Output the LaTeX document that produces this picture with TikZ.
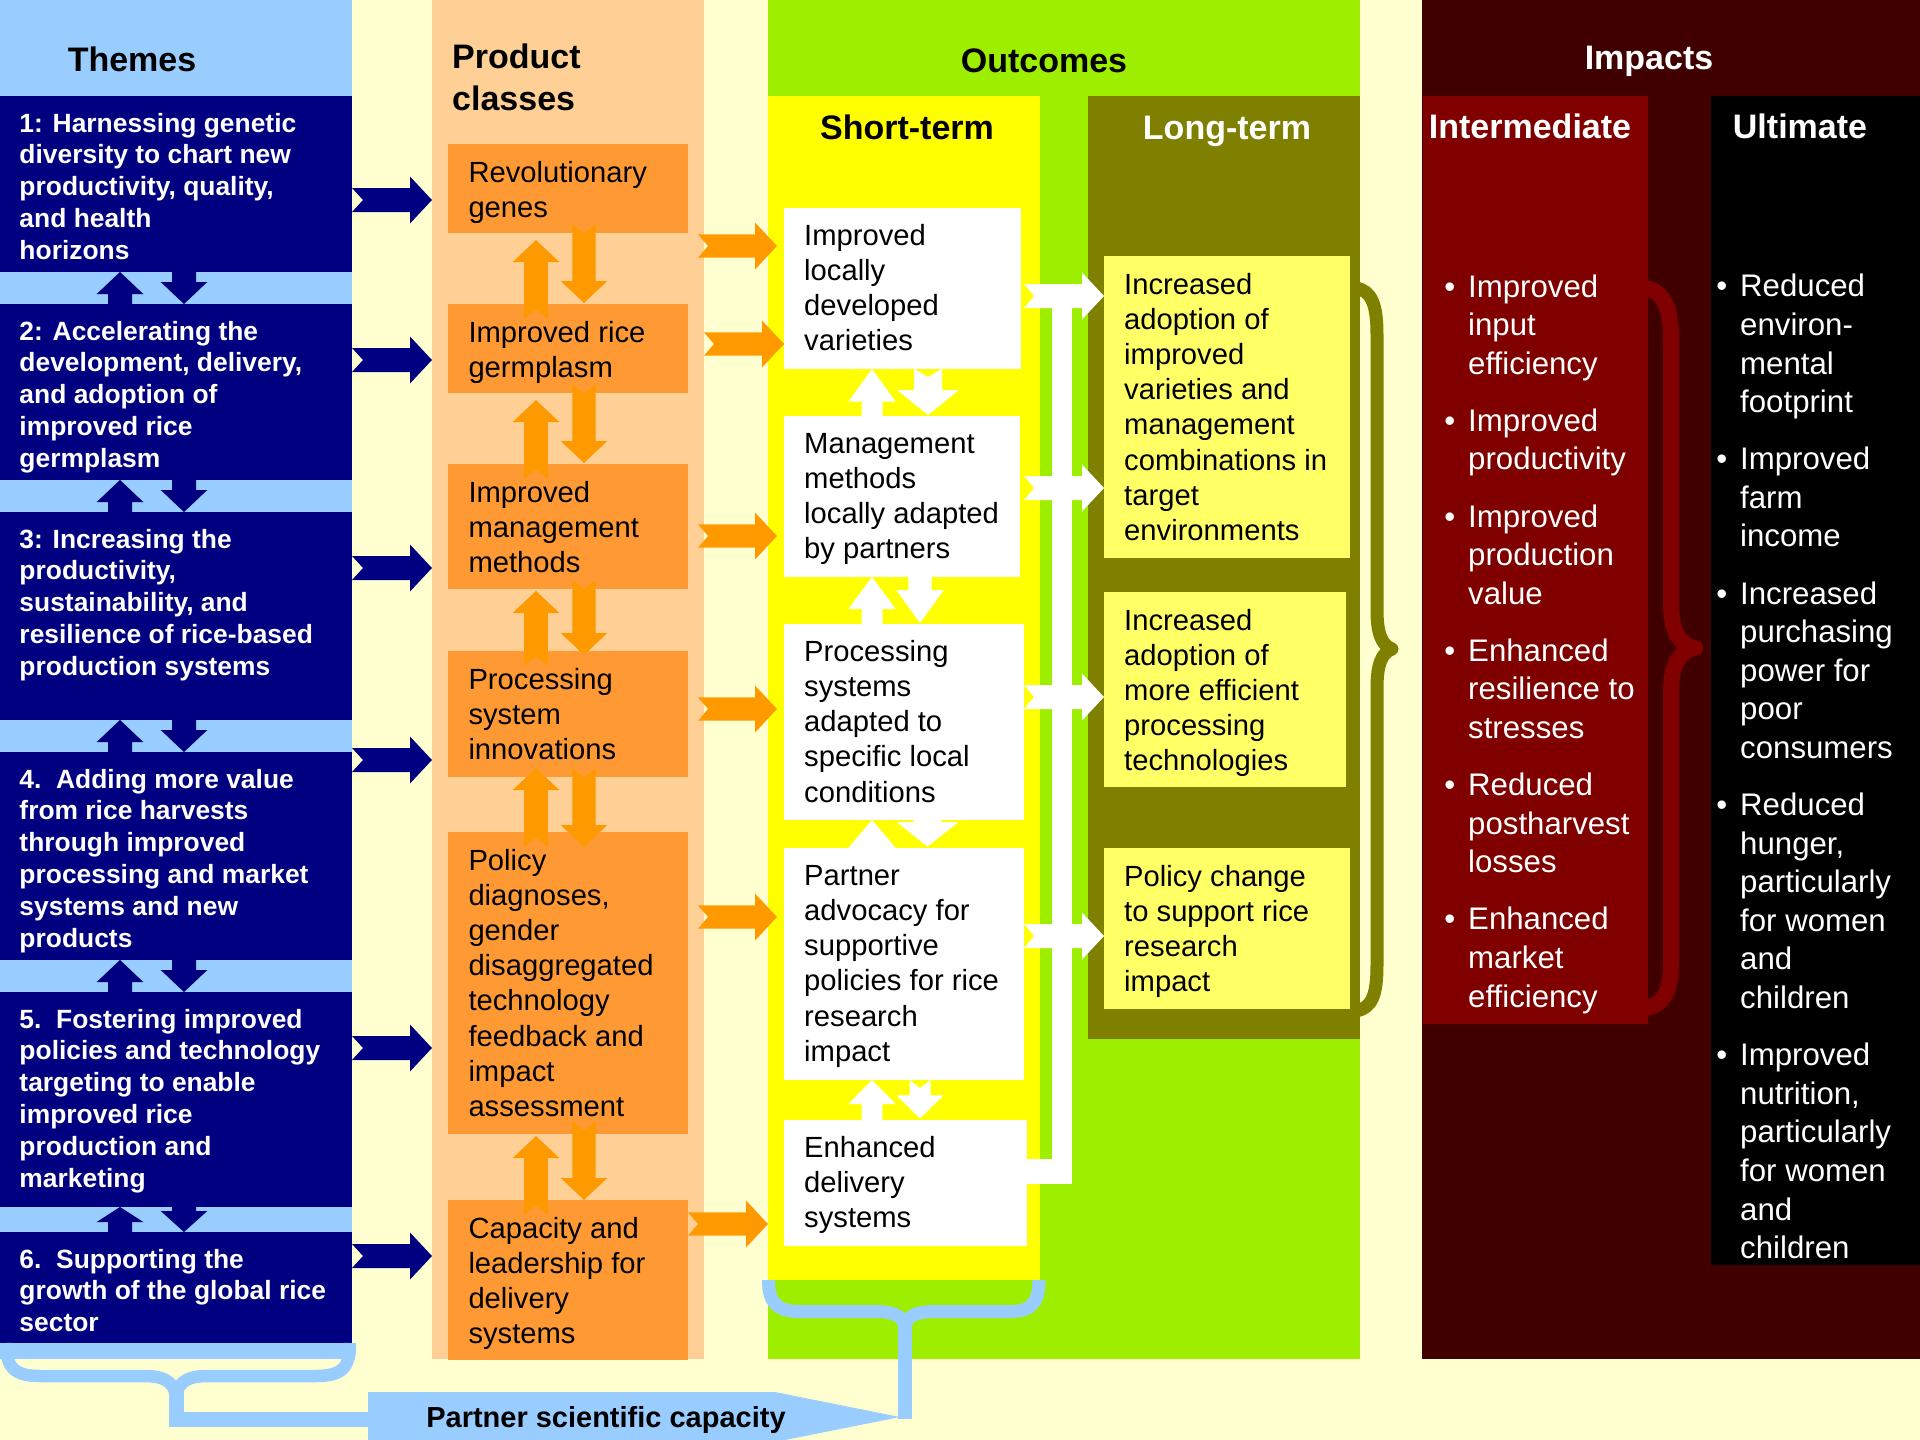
\documentclass[tikz,border=0pt]{standalone}
\usepackage{fontspec}
\setmainfont{Liberation Sans}
\definecolor{bgc}{HTML}{FFFFD0}
\definecolor{ltblue}{HTML}{99CCFF}
\definecolor{navy}{HTML}{000080}
\definecolor{peach}{HTML}{FFD095}
\definecolor{obox}{HTML}{FF9933}
\definecolor{oarr}{HTML}{FF9900}
\definecolor{grn}{HTML}{9EEE00}
\definecolor{yel}{HTML}{FFFF00}
\definecolor{olv}{HTML}{808000}
\definecolor{pyel}{HTML}{FFFF66}
\definecolor{dmar}{HTML}{400000}
\definecolor{mar}{HTML}{800000}
\newcommand\fsz[2]{\fontsize{#1pt}{#2pt}\selectfont}
\newcommand\mytxt[2]{\parbox[t]{#1pt}{\raggedright #2}}
\newcommand\bul{\leavevmode\llap{\textbullet\hspace{13pt}}}
% right block arrow: colour, tail x, tip x, centre y, shaft half, head half, head length, notch
\newcommand\blkR[8]{\fill[#1] ({#2},{#4-#5}) -- ({#3-#7},{#4-#5}) -- ({#3-#7},{#4-#6}) -- ({#3},{#4}) -- ({#3-#7},{#4+#6}) -- ({#3-#7},{#4+#5}) -- ({#2},{#4+#5}) -- ({#2+#8},{#4}) -- cycle;}
% up block arrow: colour, centre x, tail y, tip y, shaft half, head half, head length, notch
\newcommand\blkU[8]{\fill[#1] ({#2-#5},{#3}) -- ({#2-#5},{#4+#7}) -- ({#2-#6},{#4+#7}) -- ({#2},{#4}) -- ({#2+#6},{#4+#7}) -- ({#2+#5},{#4+#7}) -- ({#2+#5},{#3}) -- ({#2},{#3-#8}) -- cycle;}
% down block arrow
\newcommand\blkD[8]{\fill[#1] ({#2-#5},{#3}) -- ({#2-#5},{#4-#7}) -- ({#2-#6},{#4-#7}) -- ({#2},{#4}) -- ({#2+#6},{#4-#7}) -- ({#2+#5},{#4-#7}) -- ({#2+#5},{#3}) -- ({#2},{#3+#8}) -- cycle;}
\begin{document}
\begin{tikzpicture}[x=1pt,y=-1pt,
  bx/.style={inner sep=0pt,outer sep=0pt,anchor=north west,draw=none},
  thtxt/.style={anchor=base west,inner sep=0pt,text=white,font=\fsz{26.4}{31.9}\bfseries},
  ptxt/.style={anchor=base west,inner sep=0pt,text=black,font=\fsz{29.2}{35.2}},
  itxt/.style={anchor=base west,inner sep=0pt,text=white,font=\fsz{31.2}{38.6}},
  hdr/.style={inner sep=0pt,anchor=base,font=\fsz{34}{41.7}\bfseries},
  brace/.style={line cap=butt,line join=round}]
\useasboundingbox (0,0) rectangle (1920,1440);
\clip (0,0) rectangle (1920,1440);
\fill[bgc] (0,0) rectangle (1920,1440);

% column backgrounds
\node[bx,fill=ltblue,minimum width=352pt,minimum height=1359pt] (colTh) at (0,0) {};
\node[bx,fill=peach,minimum width=272pt,minimum height=1359pt] (colPr) at (432,0) {};
\node[bx,fill=grn,minimum width=592pt,minimum height=1359pt] (colOut) at (768,0) {};
\node[bx,fill=yel,minimum width=272pt,minimum height=1184pt] (colST) at (768,96) {};
\node[bx,fill=olv,minimum width=272pt,minimum height=943pt] (colLT) at (1088,96) {};
\node[bx,fill=dmar,minimum width=498pt,minimum height=1359pt] (colIm) at (1422,0) {};
\node[bx,fill=mar,minimum width=225pt,minimum height=928pt] (colInt) at (1423,96) {};
\node[bx,fill=black,minimum width=209pt,minimum height=1169pt] (colUlt) at (1711,96) {};

% headers
\node[hdr] (hTh) at (132,71.7) {Themes};
\node[hdr,anchor=base west] (hPr) at (452,68.3) {\mytxt{240}{Product\\classes}};
\node[hdr] (hOut) at (1044,72) {Outcomes};
\node[hdr] (hST) at (907,139) {Short-term};
\node[hdr,text=white] (hLT) at (1227,139) {Long-term};
\node[hdr,text=white] (hIm) at (1649,69) {Impacts};
\node[hdr,text=white] (hInt) at (1530,138.4) {Intermediate};
\node[hdr,text=white] (hUlt) at (1800,138.4) {Ultimate};

% theme boxes
\node[bx,fill=navy,minimum width=352pt,minimum height=176pt] (t1) at (0,96) {};
\node[bx,fill=navy,minimum width=352pt,minimum height=176pt] (t2) at (0,304) {};
\node[bx,fill=navy,minimum width=352pt,minimum height=208pt] (t3) at (0,512) {};
\node[bx,fill=navy,minimum width=352pt,minimum height=208pt] (t4) at (0,752) {};
\node[bx,fill=navy,minimum width=352pt,minimum height=215pt] (t5) at (0,992) {};
\node[bx,fill=navy,minimum width=352pt,minimum height=111pt] (t6) at (0,1232) {};
\path (t1.north west) ++(19.3,36) node[thtxt] {\mytxt{330}{1: Harnessing genetic\\diversity to chart new\\productivity, quality,\\and health\\horizons}};
\path (t2.north west) ++(19.3,36) node[thtxt] {\mytxt{330}{2: Accelerating the\\development, delivery,\\and adoption of\\improved rice\\germplasm}};
\path (t3.north west) ++(19.3,36) node[thtxt] {\mytxt{330}{3: Increasing the\\productivity,\\sustainability, and\\resilience of rice-based\\production systems}};
\path (t4.north west) ++(19.3,36) node[thtxt] {\mytxt{330}{4.\ \ Adding more value\\from rice harvests\\through improved\\processing and market\\systems and new\\products}};
\path (t5.north west) ++(19.3,36) node[thtxt] {\mytxt{330}{5.\ \ Fostering improved\\policies and technology\\targeting to enable\\improved rice\\production and\\marketing}};
\path (t6.north west) ++(19.3,36) node[thtxt] {\mytxt{330}{6.\ \ Supporting the\\growth of the global rice\\sector}};

% navy arrows between themes
\blkU{navy}{120}{304}{272}{12}{23.3}{22}{0}
\blkD{navy}{184}{272}{304}{12}{23.3}{22}{0}
\blkU{navy}{120}{512}{480}{12}{23.3}{22}{0}
\blkD{navy}{184}{480}{512}{12}{23.3}{22}{0}
\blkU{navy}{120}{752}{720}{12}{23.3}{22}{0}
\blkD{navy}{184}{720}{752}{12}{23.3}{22}{0}
\blkU{navy}{120}{992}{960}{12}{23.3}{22}{0}
\blkD{navy}{184}{960}{992}{12}{23.3}{22}{0}
\blkU{navy}{120}{1232}{1207}{12}{23.3}{15}{0}
\blkD{navy}{184}{1207}{1232}{12}{23.3}{21}{0}

% navy arrows themes -> product classes
\blkR{navy}{352}{432}{200}{12}{23.5}{22}{11}
\blkR{navy}{352}{432}{360}{12}{23.5}{22}{11}
\blkR{navy}{352}{432}{568}{12}{23.5}{22}{11}
\blkR{navy}{352}{432}{760}{12}{23.5}{22}{11}
\blkR{navy}{352}{432}{1048}{12}{23.5}{22}{11}
\blkR{navy}{352}{432}{1256}{12}{23.5}{22}{11}

% product class boxes
\node[bx,fill=obox,minimum width=240pt,minimum height=89pt] (p1) at (448,144) {};
\node[bx,fill=obox,minimum width=240pt,minimum height=89pt] (p2) at (448,304) {};
\node[bx,fill=obox,minimum width=240pt,minimum height=125pt] (p3) at (448,464) {};
\node[bx,fill=obox,minimum width=240pt,minimum height=126pt] (p4) at (448,651) {};
\node[bx,fill=obox,minimum width=240pt,minimum height=302pt] (p5) at (448,832) {};
\node[bx,fill=obox,minimum width=240pt,minimum height=160pt] (p6) at (448,1200) {};
\path (p1.north west) ++(20.3,38) node[ptxt] {\mytxt{225}{Revolutionary\\genes}};
\path (p2.north west) ++(20.3,38) node[ptxt] {\mytxt{225}{Improved rice\\germplasm}};
\path (p3.north west) ++(20.3,38) node[ptxt] {\mytxt{225}{Improved\\management\\methods}};
\path (p4.north west) ++(20.3,38) node[ptxt] {\mytxt{225}{Processing\\system\\innovations}};
\path (p5.north west) ++(20.3,38) node[ptxt] {\mytxt{225}{Policy\\diagnoses,\\gender\\disaggregated\\technology\\feedback and\\impact\\assessment}};
\path (p6.north west) ++(20.3,38) node[ptxt] {\mytxt{225}{Capacity and\\leadership for\\delivery\\systems}};

% orange arrows between product classes
\blkU{oarr}{536}{319}{240}{11.8}{23.3}{22}{9.5}
\blkD{oarr}{584}{224}{303}{11.7}{23.3}{22}{9.5}
\blkU{oarr}{536}{479}{400}{11.8}{23.3}{22}{9.5}
\blkD{oarr}{584}{384}{463}{11.7}{23.3}{22}{9.5}
\blkU{oarr}{536}{666}{591}{11.8}{23.3}{22}{9.5}
\blkD{oarr}{584}{580}{655}{11.7}{23.3}{22}{9.5}
\blkU{oarr}{536}{847}{768}{11.8}{23.3}{22}{9.5}
\blkD{oarr}{584}{768}{847}{11.7}{23.3}{22}{9.5}
\blkU{oarr}{536}{1215}{1136}{11.8}{23.3}{22}{9.5}
\blkD{oarr}{584}{1121}{1200}{11.7}{23.3}{22}{9.5}

% orange arrows product classes -> short-term outcomes
\blkR{oarr}{698}{777}{246}{11.7}{23.5}{22}{10}
\blkR{oarr}{704}{784}{344}{11.7}{23.5}{22}{10}
\blkR{oarr}{698}{777}{536}{11.7}{23.5}{22}{10}
\blkR{oarr}{698}{777}{709}{11.7}{23.5}{22}{10}
\blkR{oarr}{698}{777}{917}{11.7}{23.5}{22}{10}
\blkR{oarr}{688}{768}{1224}{11.7}{23.5}{22}{10}

% short-term outcome boxes
\node[bx,fill=white,minimum width=237pt,minimum height=161pt] (w1) at (784,208) {};
\node[bx,fill=white,minimum width=236pt,minimum height=161pt] (w2) at (784,416) {};
\node[bx,fill=white,minimum width=240pt,minimum height=196pt] (w3) at (784,624) {};
\node[bx,fill=white,minimum width=240pt,minimum height=232pt] (w4) at (784,848) {};
\node[bx,fill=white,minimum width=243pt,minimum height=126pt] (w5) at (784,1120) {};
\path (w1.north west) ++(20,37.3) node[ptxt] {\mytxt{225}{Improved\\locally\\developed\\varieties}};
\path (w2.north west) ++(20,37.3) node[ptxt] {\mytxt{225}{Management\\methods\\locally adapted\\by partners}};
\path (w3.north west) ++(20,37.3) node[ptxt] {\mytxt{225}{Processing\\systems\\adapted to\\specific local\\conditions}};
\path (w4.north west) ++(20,37.3) node[ptxt] {\mytxt{225}{Partner\\advocacy for\\supportive\\policies for rice\\research\\impact}};
\path (w5.north west) ++(20,37.3) node[ptxt] {\mytxt{225}{Enhanced\\delivery\\systems}};

% white arrows between short-term boxes
\blkU{white}{872}{416}{369}{10.5}{23.7}{32.7}{0}
\blkD{white}{928}{369}{415}{14}{31}{25}{8}
\blkU{white}{872}{624}{577}{10.5}{23.7}{32}{0}
\blkD{white}{920}{577}{623}{11.7}{23.8}{33}{0}
\blkU{white}{872}{848}{820}{10.5}{23.7}{28}{0}
\blkD{white}{927.5}{820}{846.5}{14}{31}{24.5}{0}
\blkU{white}{872}{1120}{1080}{10.3}{23.7}{24}{0}
\blkD{white}{920}{1080}{1118.4}{10.5}{23.5}{23}{8}

% white connector from delivery systems and arrows to long-term
\fill[white] (1052,296) rectangle (1072,1184);
\fill[white] (w5.east |- 0,1159) rectangle (1072,1184);
\blkR{white}{1024}{1104}{296}{12}{23.5}{22}{10}
\blkR{white}{1024}{1104}{488}{12}{23.5}{22}{10}
\blkR{white}{1024}{1104}{697}{12}{23.5}{22}{10}
\blkR{white}{1024}{1104}{936}{12}{23.5}{22}{10}

% long-term outcome boxes
\node[bx,fill=pyel,minimum width=246pt,minimum height=302pt] (l1) at (1104,256) {};
\node[bx,fill=pyel,minimum width=242pt,minimum height=195pt] (l2) at (1104,592) {};
\node[bx,fill=pyel,minimum width=246pt,minimum height=161pt] (l3) at (1104,848) {};
\path (l1.north west) ++(20,38) node[ptxt] {\mytxt{225}{Increased\\adoption of\\improved\\varieties and\\management\\combinations in\\target\\environments}};
\path (l2.north west) ++(20,38) node[ptxt] {\mytxt{225}{Increased\\adoption of\\more efficient\\processing\\technologies}};
\path (l3.north west) ++(20,38) node[ptxt] {\mytxt{225}{Policy change\\to support rice\\research\\impact}};

% olive brace
\draw[olv,brace,line width=13pt] (1356,288) .. controls (1372,291) and (1377,305) .. (1377,335) -- (1377,610) .. controls (1377,632) and (1381,645) .. (1392,649) .. controls (1381,653) and (1377,666) .. (1377,688) -- (1377,965) .. controls (1377,995) and (1372,1008) .. (1356,1011);

% impacts
\node[itxt] (intl) at (1468,297) {\mytxt{178}{\setlength\parskip{18.5pt}\bul Improved\\input\\efficiency\par\bul Improved\\productivity\par\bul Improved\\production\\value\par\bul Enhanced\\resilience to\\stresses\par\bul Reduced\\postharvest\\losses\par\bul Enhanced\\market\\efficiency}};
\node[itxt] (ultl) at (1740,296.8) {\mytxt{178}{\setlength\parskip{18.5pt}\bul Reduced\\environ-\\mental\\footprint\par\bul Improved\\farm\\income\par\bul Increased\\purchasing\\power for\\poor\\consumers\par\bul Reduced\\hunger,\\particularly\\for women\\and\\children\par\bul Improved\\nutrition,\\particularly\\for women\\and\\children}};

% maroon brace
\draw[mar,brace,line width=16pt] (1646,288) .. controls (1665,292) and (1671,310) .. (1671,340) -- (1671,605) .. controls (1671,630) and (1679,645) .. (1695,648) .. controls (1679,651) and (1671,666) .. (1671,690) -- (1671,960) .. controls (1671,990) and (1665,1004) .. (1646,1008);

% partner scientific capacity banner
\node[inner sep=0pt] (bannertip) at (900,1417) {};
\fill[ltblue] (368,1392) -- (775,1392) -- (bannertip.center) -- (775,1442) -- (368,1442) -- cycle;
\node[hdr,font=\fsz{29}{35}\bfseries] (banner) at (606,1427) {Partner scientific capacity};

% light-blue braces
\draw[ltblue,brace,line width=12.5pt] (6,1343) .. controls (6,1368) and (15,1376) .. (40,1376) -- (145,1376) .. controls (168,1376) and (176,1385) .. (176,1400) .. controls (176,1385) and (184,1376) .. (207,1376) -- (315,1376) .. controls (342,1376) and (350,1368) .. (350,1343);
\draw[ltblue,line width=15pt,line join=miter] (176,1390) -- (176,1419.5) -- (370,1419.5);
\draw[ltblue,brace,line width=13pt] (768.5,1280) .. controls (768.5,1302) and (776,1311.5) .. (800,1311.5) -- (875,1311.5) .. controls (898,1311.5) and (905,1318) .. (905,1330) .. controls (905,1318) and (912,1311.5) .. (935,1311.5) -- (1010,1311.5) .. controls (1032,1311.5) and (1039,1302) .. (1039,1280);
\draw[ltblue,line width=14pt] (905,1322) -- (905,1419);
\end{tikzpicture}
\end{document}
